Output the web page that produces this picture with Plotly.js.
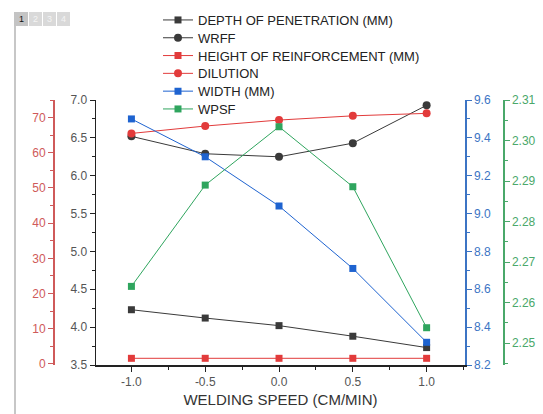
<!DOCTYPE html>
<html>
<head>
<meta charset="utf-8">
<script src="https://cdn.plot.ly/plotly-3.0.1.min.js"></script>
<style>
  html, body { margin: 0; padding: 0; background: #fff; }
  #chart { width: 543px; height: 414px; }
</style>
</head>
<body>
<div id="chart"></div>
<script>
// Welding speed levels (coded)
const weldingSpeed = [-1.0, -0.5, 0.0, 0.5, 1.0];
const speedTickLabels = ['-1.0', '-0.5', '0.0', '0.5', '1.0'];

// Responses
const depthOfPenetration = [4.23, 4.12, 4.02, 3.88, 3.73];
const wrff = [6.52, 6.29, 6.25, 6.43, 6.93];
const heightOfReinforcement = [1.6, 1.6, 1.6, 1.6, 1.6];
const dilution = [65.5, 67.6, 69.3, 70.5, 71.2];
const widthMM = [9.50, 9.30, 9.04, 8.71, 8.32];
const wpsf = [2.264, 2.289, 2.3034, 2.2886, 2.2538];

const seriesNames = [
  'DEPTH OF PENETRATION (MM)', 'WRFF', 'HEIGHT OF REINFORCEMENT (MM)',
  'DILUTION', 'WIDTH (MM)', 'WPSF'
];

const cBlack = '#3a3a3a', cRed = '#e23b3b', cBlue = '#1e63d0', cGreen = '#2fa55e';
const cRedAxis = '#cf5a5a', cBlueAxis = '#3c74c4', cGreenAxis = '#4aa86a';

// pixel helpers for page-furniture placed in paper coordinates
const ML = 40, MR = 30, MT = 100, MB = 49, W = 543, H = 414;
const PW = W - ML - MR, PH = H - MT - MB;
const px = x => (x - ML) / PW;
const py = y => (H - MB - y) / PH;

// each series gets its own single-entry legend so the key rows sit close together
const legendIds = ['legend', 'legend2', 'legend3', 'legend4', 'legend5', 'legend6'];
const legendRowTop = 5, legendRowStep = 17.8;

function trace(y, idx, color, symbol, axis, size) {
  return {
    x: weldingSpeed, y: y, name: seriesNames[idx], yaxis: axis, type: 'scatter',
    mode: 'lines+markers', legend: legendIds[idx],
    line: { color: color, width: 1 },
    marker: { color: color, symbol: symbol, size: size }
  };
}

const data = [
  trace(depthOfPenetration, 0, cBlack, 'square', 'y', 7),
  trace(wrff, 1, cBlack, 'circle', 'y', 8),
  trace(heightOfReinforcement, 2, cRed, 'square', 'y2', 7),
  trace(dilution, 3, cRed, 'circle', 'y2', 8),
  trace(widthMM, 4, cBlue, 'square', 'y3', 7),
  trace(wpsf, 5, cGreen, 'square', 'y4', 7)
];

const tickFont = { family: 'Liberation Sans, Arial, sans-serif', size: 12, color: '#555' };

const layout = {
  width: W, height: H,
  margin: { l: ML, r: MR, t: MT, b: MB, autoexpand: false },
  paper_bgcolor: '#fff', plot_bgcolor: 'rgba(0,0,0,0)',
  font: { family: 'Liberation Sans, Arial, sans-serif' },
  showlegend: true,
  xaxis: {
    domain: [px(96), px(465)],
    range: [-1.24, 1.26],
    tickvals: weldingSpeed, ticktext: speedTickLabels,
    ticks: 'outside', ticklen: 5, tickcolor: '#222', tickwidth: 1,
    minor: { dtick: 0.25, tick0: 0, ticks: 'outside', ticklen: 3, tickcolor: '#222' },
    showline: true, linecolor: '#222', linewidth: 1.5,
    showgrid: false, zeroline: false, automargin: false,
    tickfont: tickFont,
    title: { text: 'WELDING SPEED (CM/MIN)', font: { size: 15, color: '#333' }, standoff: 6 }
  },
  yaxis: {
    range: [3.5, 7.0], dtick: 0.5, tickformat: '.1f',
    ticks: 'outside', ticklen: 5, tickcolor: '#222',
    minor: { dtick: 0.25, ticks: 'outside', ticklen: 3, tickcolor: '#222' },
    showline: true, linecolor: '#222', linewidth: 1.5,
    showgrid: false, zeroline: false, automargin: false, tickfont: tickFont
  },
  yaxis2: {
    overlaying: 'y', anchor: 'free', position: px(53), side: 'left',
    range: [-0.3, 75], dtick: 10,
    ticks: 'outside', ticklen: 5, tickcolor: cRedAxis,
    minor: { dtick: 5, ticks: 'outside', ticklen: 3, tickcolor: cRedAxis },
    showline: true, linecolor: cRedAxis, linewidth: 1.5,
    showgrid: false, zeroline: false, automargin: false,
    tickfont: Object.assign({}, tickFont, { color: cRedAxis })
  },
  yaxis3: {
    overlaying: 'y', anchor: 'x', side: 'right',
    range: [8.2, 9.6], dtick: 0.2, tickformat: '.1f',
    ticks: 'outside', ticklen: 5, tickcolor: cBlueAxis,
    minor: { dtick: 0.1, ticks: 'outside', ticklen: 3, tickcolor: cBlueAxis },
    showline: true, linecolor: cBlueAxis, linewidth: 1.5,
    showgrid: false, zeroline: false, automargin: false,
    tickfont: Object.assign({}, tickFont, { color: cBlueAxis })
  },
  yaxis4: {
    overlaying: 'y', anchor: 'free', position: px(503), side: 'right',
    range: [2.2446, 2.31], tickvals: [2.25, 2.26, 2.27, 2.28, 2.29, 2.30, 2.31],
    tickformat: '.2f',
    ticks: 'outside', ticklen: 5, tickcolor: cGreenAxis,
    minor: { dtick: 0.005, tick0: 2.25, ticks: 'outside', ticklen: 3, tickcolor: cGreenAxis },
    showline: true, linecolor: cGreenAxis, linewidth: 1.5,
    showgrid: false, zeroline: false, automargin: false,
    tickfont: Object.assign({}, tickFont, { color: cGreenAxis })
  },
  shapes: [
    // page frame line and layer tabs
    { type: 'line', xref: 'paper', yref: 'paper', x0: px(15), x1: px(15), y0: py(25), y1: py(414),
      line: { color: '#b5b5b5', width: 1.5 } },
    { type: 'rect', xref: 'paper', yref: 'paper', x0: px(14), x1: px(28), y0: py(26), y1: py(12),
      fillcolor: '#c4c4c4', line: { width: 0 } },
    { type: 'rect', xref: 'paper', yref: 'paper', x0: px(29), x1: px(42), y0: py(26), y1: py(12),
      fillcolor: '#d9d9d9', line: { width: 0 } },
    { type: 'rect', xref: 'paper', yref: 'paper', x0: px(43), x1: px(56), y0: py(26), y1: py(12),
      fillcolor: '#d9d9d9', line: { width: 0 } },
    { type: 'rect', xref: 'paper', yref: 'paper', x0: px(57), x1: px(70), y0: py(26), y1: py(12),
      fillcolor: '#d9d9d9', line: { width: 0 } }
  ],
  annotations: ['1', '2', '3', '4'].map((t, i) => ({
    text: t, xref: 'paper', yref: 'paper', x: px(21 + i * 14), y: py(19),
    xanchor: 'center', yanchor: 'middle',
    showarrow: false, font: { size: 9, color: i === 0 ? '#111' : '#f4f4f4' }
  }))
};

legendIds.forEach((id, i) => {
  layout[id] = {
    xref: 'container', yref: 'container',
    x: 158 / W, y: 1 - (legendRowTop + i * legendRowStep) / H,
    xanchor: 'left', yanchor: 'top',
    font: { family: 'Liberation Sans, Arial, sans-serif', size: 13, color: '#222' },
    bgcolor: 'rgba(0,0,0,0)', itemwidth: 30
  };
});

Plotly.newPlot('chart', data, layout, { displayModeBar: false, staticPlot: true });
</script>
</body>
</html>
